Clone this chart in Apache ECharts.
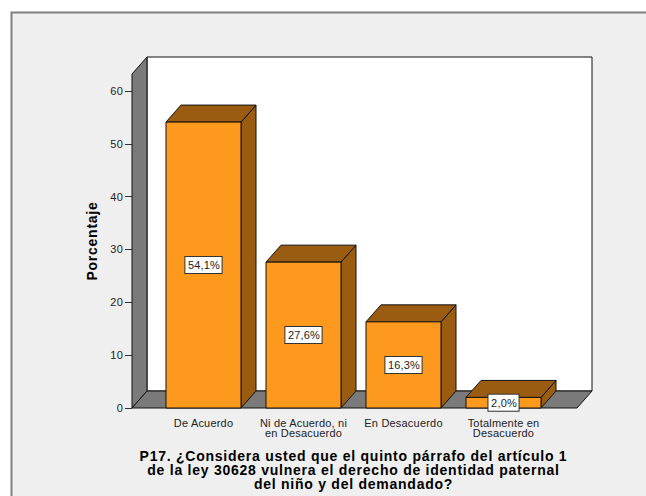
<!DOCTYPE html>
<html><head><meta charset="utf-8">
<style>html,body{margin:0;padding:0;background:#fff}#c{width:646px;height:496px}
#c text{letter-spacing:.2px}
#c text[style*="bold"]{letter-spacing:.75px}
</style>
<script src="https://cdn.jsdelivr.net/npm/echarts@6/dist/echarts.min.js"></script>
</head><body><div id="c"></div>
<script>
var categories = ['De Acuerdo', 'Ni de Acuerdo, ni\nen Desacuerdo', 'En Desacuerdo', 'Totalmente en\nDesacuerdo'];
var percentages = [54.1, 27.6, 16.3, 2.0];
var barLabels = ['54,1%', '27,6%', '16,3%', '2,0%'];
var yTicks = [0, 10, 20, 30, 40, 50, 60];
var wallTop = 63.2;
var xTitle = 'P17. ¿Considera usted que el quinto párrafo del artículo 1\nde la ley 30628 vulnera el derecho de identidad paternal\ndel niño y del demandado?';

var DX = 15, DY = 17, BAR_W = 75, LEFT_PAD = 21.5, RIGHT_PAD = 23.5;
var chart = echarts.init(document.getElementById('c'), null, {renderer: 'svg'});
var edge = {stroke: '#111', lineWidth: 1};
function poly(pts, fill) {
  return {type: 'polygon', shape: {points: pts}, style: Object.assign({fill: fill}, edge)};
}
function frameItem(params, api) {
  var grid = params.coordSys;
  var y0 = api.coord([0, 0])[1], yT = api.coord([0, wallTop])[1];
  var l = grid.x - LEFT_PAD, r = grid.x + grid.width + RIGHT_PAD;
  return {type: 'group', children: [
    poly([[l + DX, y0 - DY], [r + DX, y0 - DY], [r + DX, yT - DY], [l + DX, yT - DY]], '#ffffff'),
    poly([[l, y0], [l + DX, y0 - DY], [l + DX, yT - DY], [l, yT]], '#7a7a7a'),
    poly([[l, y0], [r, y0], [r + DX, y0 - DY], [l + DX, y0 - DY]], '#7a7a7a')
  ]};
}
function barItem(params, api) {
  var c = api.coord([api.value(0), api.value(1)]);
  var y0 = api.coord([api.value(0), 0])[1];
  var a = c[0] - BAR_W / 2, b = c[0] + BAR_W / 2, t = c[1];
  return {type: 'group', children: [
    poly([[b, y0], [b + DX, y0 - DY], [b + DX, t - DY], [b, t]], '#9a5c10'),
    poly([[a, t], [b, t], [b + DX, t - DY], [a + DX, t - DY]], '#9a5c10'),
    poly([[a, y0], [b, y0], [b, t], [a, t]], '#fd9a1e')
  ]};
}
chart.setOption({
  animation: false,
  backgroundColor: '#ffffff',
  textStyle: {fontFamily: '"Liberation Sans", Arial, sans-serif'},
  graphic: [{type: 'rect', silent: true, z: -10, shape: {x: 11.5, y: 12.5, width: 700, height: 500},
    style: {fill: '#efefef', stroke: '#808080', lineWidth: 2}}],
  grid: {left: 153.5, width: 400, top: 74, height: 334, outerBoundsMode: 'none'},
  xAxis: {type: 'category', data: categories,
    axisLine: {show: false},
    axisTick: {alignWithLabel: true, length: 7, lineStyle: {color: '#333'}},
    axisLabel: {interval: 0, fontSize: 11, lineHeight: 10, margin: 10, color: '#222'},
    name: xTitle, nameLocation: 'middle', nameGap: 41,
    nameTextStyle: {fontSize: 14, fontWeight: 'bold', lineHeight: 14, color: '#000'}
  },
  yAxis: {type: 'value', min: 0, max: wallTop, offset: 21.5,
    splitLine: {show: false},
    axisLine: {show: false},
    axisTick: {show: true, length: 7, customValues: yTicks, lineStyle: {color: '#333'}},
    axisLabel: {fontSize: 11, margin: 9, color: '#222', customValues: yTicks},
    name: 'Porcentaje', nameLocation: 'middle', nameGap: 33,
    nameTextStyle: {fontSize: 14, fontWeight: 'bold', color: '#000'}
  },
  series: [
    {type: 'custom', z: 1, clip: false, renderItem: frameItem, data: [[0, 0]], silent: true},
    {type: 'custom', z: 2, clip: false, renderItem: barItem, silent: true,
      data: percentages.map(function (v, i) { return [i, v]; }),
      encode: {x: 0, y: 1}
    },
    {type: 'scatter', z: 5, symbolSize: 0, silent: true, clip: false,
      itemStyle: {opacity: 1},
      data: percentages.map(function (v, i) { return [i, v / 2]; }),
      label: {show: true, position: 'inside', color: '#222', fontSize: 11, opacity: 1,
        backgroundColor: '#fff', borderColor: '#333', borderWidth: 1, padding: [3, 2, 2, 3],
        formatter: function (p) { return barLabels[p.dataIndex]; }}
    }
  ]
});
</script></body></html>
